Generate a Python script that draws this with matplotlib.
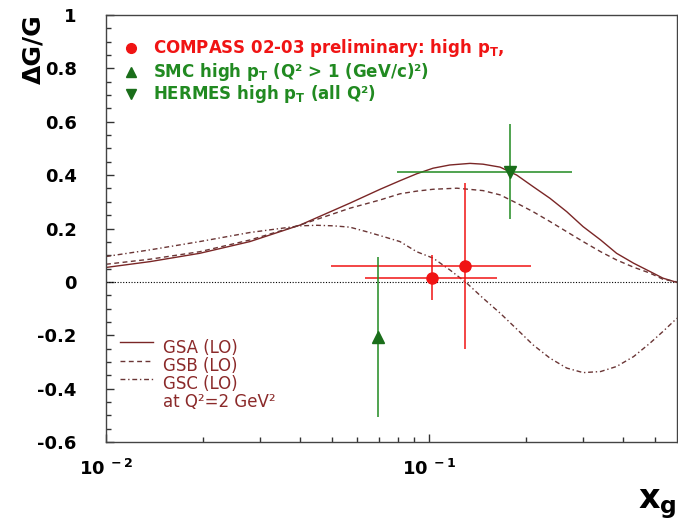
import numpy as np
import matplotlib.pyplot as plt
from matplotlib.ticker import MultipleLocator, LogLocator, NullFormatter

plt.rcParams['font.family'] = 'DejaVu Sans'
plt.rcParams['mathtext.fontset'] = 'dejavusans'

# Theory curves
gsa_x = [0.010, 0.0137, 0.0195, 0.0279, 0.0399, 0.0569, 0.0706, 0.0813, 0.0916, 0.103, 0.116, 0.134, 0.147, 0.166, 0.187, 0.210,
         0.237, 0.267, 0.300, 0.340, 0.381, 0.430, 0.483, 0.530, 0.586]
gsa_y = [0.054, 0.076, 0.107, 0.151, 0.213, 0.295, 0.347, 0.379, 0.405, 0.426, 0.438, 0.444, 0.441, 0.430, 0.400, 0.357,
         0.313, 0.263, 0.207, 0.157, 0.107, 0.070, 0.039, 0.014, -0.002]

gsb_x = [0.010, 0.0137, 0.0195, 0.0279, 0.0399, 0.0569, 0.0706, 0.0813, 0.0916, 0.103, 0.122, 0.147, 0.166, 0.187, 0.210,
         0.237, 0.267, 0.300, 0.340, 0.381, 0.430, 0.483, 0.530, 0.586]
gsb_y = [0.066, 0.085, 0.113, 0.157, 0.213, 0.276, 0.307, 0.330, 0.340, 0.347, 0.351, 0.342, 0.326, 0.295, 0.263,
         0.226, 0.188, 0.151, 0.113, 0.082, 0.055, 0.033, 0.010, 0.0]

gsc_x = [0.010, 0.0137, 0.0195, 0.0279, 0.0399, 0.045, 0.0506, 0.0569, 0.0641, 0.0721, 0.0813, 0.0916, 0.103, 0.116, 0.131,
         0.147, 0.166, 0.187, 0.210, 0.237, 0.267, 0.300, 0.340, 0.381, 0.430, 0.483, 0.530, 0.586]
gsc_y = [0.095, 0.120, 0.151, 0.185, 0.210, 0.212, 0.210, 0.205, 0.188, 0.170, 0.151, 0.113, 0.089, 0.045, -0.005,
         -0.061, -0.117, -0.177, -0.236, -0.286, -0.323, -0.340, -0.336, -0.317, -0.280, -0.230, -0.186, -0.136]

# Measurements
compass_x = [0.102, 0.129]
compass_y = [0.016, 0.060]
compass_xlo = [0.0634, 0.0497]
compass_xhi = [0.1624, 0.207]
compass_yerr = [0.083, 0.31]

smc_x = [0.0697]
smc_y = [-0.205]
smc_yerr = [0.30]

hermes_x = [0.178]
hermes_y = [0.413]
hermes_xlo = [0.0794]
hermes_xhi = [0.2766]
hermes_yerr = [0.178]

yticks = [-0.6, -0.4, -0.2, 0, 0.2, 0.4, 0.6, 0.8, 1.0]
ytick_labels = ['-0.6', '-0.4', '-0.2', '0', '0.2', '0.4', '0.6', '0.8', '1']
xticks = [0.01, 0.1]
xtick_labels = [r'$\mathbf{10^{\ -2}}$', r'$\mathbf{10^{\ -1}}$']

curve_col = '#7a2626'
dash_col = '#6a3535'
red = '#f01414'
green = '#218a21'
dark_green = '#1a6e1a'
dashed = (0, (3.5, 2.5))
dashdot = (0, (3.5, 2, 1, 2))

fig = plt.figure(figsize=(6.78, 5.21), dpi=100)
ax = fig.add_axes([106/678, 79/521, 571/678, 427/521])

ax.axhline(0, color='black', ls=(0, (1, 1.5)), lw=0.8)

ax.plot(gsa_x, gsa_y, color=curve_col, lw=1.0)
ax.plot(gsb_x, gsb_y, color=dash_col, lw=1.0, ls=dashed)
ax.plot(gsc_x, gsc_y, color=dash_col, lw=1.0, ls=dashdot)

# COMPASS
cx = np.array(compass_x)
ax.errorbar(compass_x, compass_y,
            xerr=[cx - np.array(compass_xlo), np.array(compass_xhi) - cx],
            yerr=compass_yerr, fmt='o', color=red, ms=8, elinewidth=1.1, capsize=0)
# SMC
ax.errorbar(smc_x, smc_y, yerr=smc_yerr, fmt='^', color=green, mfc=dark_green,
            mec=dark_green, ms=8, elinewidth=1.1, capsize=0)
# HERMES
hx = np.array(hermes_x)
ax.errorbar(hermes_x, hermes_y,
            xerr=[hx - np.array(hermes_xlo), np.array(hermes_xhi) - hx],
            yerr=hermes_yerr, fmt='v', color=green, mfc=dark_green, mec=dark_green,
            ms=8, elinewidth=1.1, capsize=0)

ax.set_xscale('log')
ax.set_xlim(0.01, 0.586)
ax.set_ylim(-0.6, 1.0)

ax.set_xticks(xticks)
ax.set_xticklabels(xtick_labels)
ax.xaxis.set_minor_locator(LogLocator(base=10, subs=range(2, 10)))
ax.xaxis.set_minor_formatter(NullFormatter())
ax.set_yticks(yticks)
ax.set_yticklabels(ytick_labels)
ax.yaxis.set_minor_locator(MultipleLocator(0.05))

ax.tick_params(which='both', direction='in', top=False, right=False, color='#333333')
ax.tick_params(which='major', length=6, width=1)
ax.tick_params(which='minor', length=3.5, width=1)
ax.tick_params(axis='y', labelsize=13, pad=21)
ax.tick_params(axis='x', labelsize=13, pad=12)
for lab in ax.get_xticklabels() + ax.get_yticklabels():
    lab.set_fontweight('bold')
for s in ax.spines.values():
    s.set_color('#444444')
    s.set_linewidth(1)

# data legend
leg_rows = [0.9227, 0.8665, 0.815]
ax.plot([0.043], [leg_rows[0]], 'o', color=red, ms=7, transform=ax.transAxes)
ax.plot([0.043], [leg_rows[1]], '^', color=dark_green, ms=7, transform=ax.transAxes)
ax.plot([0.043], [leg_rows[2]], 'v', color=dark_green, ms=7, transform=ax.transAxes)
ax.text(0.082, leg_rows[0], r'COMPASS 02-03 preliminary: high $\mathbf{p_T}$,', color=red,
        fontsize=12, fontweight='bold', va='center', transform=ax.transAxes)
ax.text(0.082, leg_rows[1], r'SMC high $\mathbf{p_T}$ (Q² > 1 (GeV/c)²)', color=green,
        fontsize=12, fontweight='bold', va='center', transform=ax.transAxes)
ax.text(0.082, leg_rows[2], r'HERMES high $\mathbf{p_T}$ (all Q²)', color=green,
        fontsize=12, fontweight='bold', va='center', transform=ax.transAxes)

# curve legend
txt_col = '#8b2a2a'
ax.plot([0.0245, 0.082], [0.235, 0.235], color=curve_col, lw=1.0, transform=ax.transAxes)
ax.plot([0.0245, 0.082], [0.190, 0.190], color=dash_col, lw=1.0, ls=dashed, transform=ax.transAxes)
ax.plot([0.0245, 0.082], [0.148, 0.148], color=dash_col, lw=1.0, ls=dashdot, transform=ax.transAxes)
for yy, t in zip([0.220, 0.178, 0.136, 0.094], ['GSA (LO)', 'GSB (LO)', 'GSC (LO)', 'at Q²=2 GeV²']):
    ax.text(0.10, yy, t, color=txt_col, fontsize=12, va='center', transform=ax.transAxes)

fig.text(0.049, 0.906, 'ΔG/G', rotation=90, fontsize=18, fontweight='bold', ha='center', va='center')
fig.text(0.998, 0.0, r'$\mathbf{x_g}$', fontsize=24, ha='right', va='bottom')

fig.savefig('out.png', dpi=100)
